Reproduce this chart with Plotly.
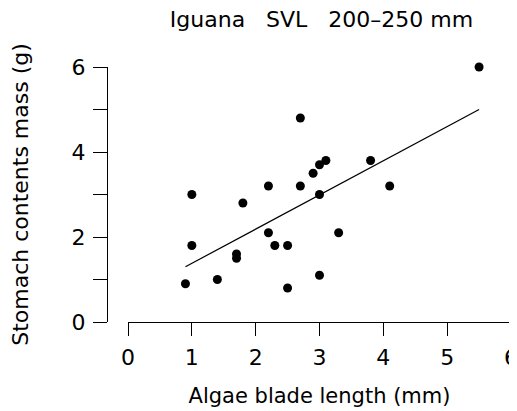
import plotly.graph_objects as go

# Data
algae_length = [0.9, 1.0, 1.0, 1.4, 1.7, 1.7, 1.8, 2.2, 2.2, 2.3, 2.5, 2.5,
                2.7, 2.7, 2.9, 3.0, 3.0, 3.0, 3.1, 3.3, 3.8, 4.1, 5.5]
stomach_mass = [0.9, 3.0, 1.8, 1.0, 1.6, 1.5, 2.8, 3.2, 2.1, 1.8, 1.8, 0.8,
                4.8, 3.2, 3.5, 3.7, 3.0, 1.1, 3.8, 2.1, 3.8, 3.2, 6.0]
fit_x = [0.9, 5.5]
fit_y = [1.3, 5.0]

x_ticks = [0, 1, 2, 3, 4, 5, 6]
y_ticks = [0, 1, 2, 3, 4, 5, 6]
y_ticktext = ["0", "", "2", "", "4", "", "6"]

FONT = "DejaVu Sans, Liberation Sans, Arial, sans-serif"
OFF = 8                      # page body margin in the browser
W, H = 517 - OFF, 411 - OFF
L, R, T, B = 107 - OFF, 6, 67 - OFF, 89
plot_w = W - L - R

fig = go.Figure()
fig.add_trace(go.Scatter(x=fit_x, y=fit_y, mode="lines",
                         line=dict(color="black", width=1.2),
                         showlegend=False, hoverinfo="skip", cliponaxis=False))
fig.add_trace(go.Scatter(x=algae_length, y=stomach_mass, mode="markers",
                         marker=dict(color="black", size=9, line=dict(width=0)),
                         showlegend=False, cliponaxis=False))

fig.update_layout(
    template="none",
    width=W, height=H,
    margin=dict(l=L, r=R, t=T, b=B, autoexpand=False),
    paper_bgcolor="white", plot_bgcolor="white",
    font=dict(family=FONT, color="black", size=21),
    title=dict(text="Iguana   SVL   200\u2013250 mm",
               x=(321.5 - 107) / plot_w, xref="paper", xanchor="center",
               y=1 - (19 - OFF) / H, yref="container", yanchor="middle",
               font=dict(family=FONT, size=22, color="black")),
    xaxis=dict(range=[0, 6], domain=[(128 - 107) / plot_w, 1],
               automargin=False,
               tickvals=x_ticks, ticktext=[str(v) for v in x_ticks],
               showgrid=False, zeroline=False,
               showline=True, linecolor="black", linewidth=1,
               ticks="outside", ticklen=13, tickwidth=1, tickcolor="black",
               ticklabelstandoff=3, ticklabeloverflow="allow",
               tickfont=dict(size=22),
               title=dict(text="Algae blade length (mm)", standoff=18,
                          font=dict(size=21))),
    yaxis=dict(range=[0, 6], anchor="free", position=0,
               automargin=False,
               tickvals=y_ticks, ticktext=y_ticktext,
               showgrid=False, zeroline=False,
               showline=True, linecolor="black", linewidth=1,
               ticks="outside", ticklen=14, tickwidth=1, tickcolor="black",
               ticklabelstandoff=3, ticklabeloverflow="allow",
               tickfont=dict(size=22),
               title=dict(text="Stomach contents mass (g)", standoff=40,
                          font=dict(size=22))),
)

fig.write_html("out.html")
